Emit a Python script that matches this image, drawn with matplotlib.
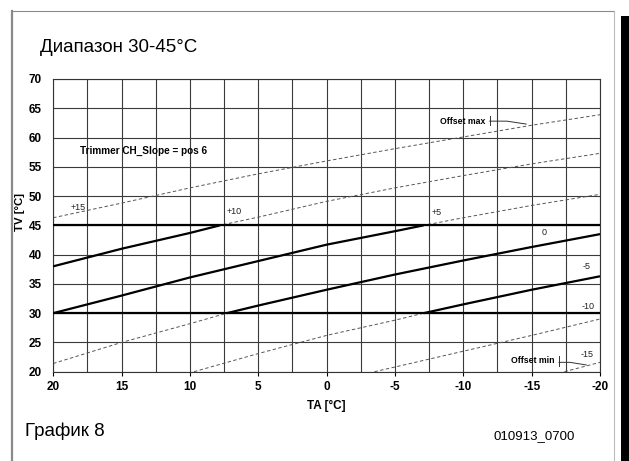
import matplotlib
matplotlib.use('Agg')
import numpy as np
import matplotlib.pyplot as plt
from matplotlib.patches import Rectangle
from matplotlib.lines import Line2D

plt.rcParams['font.family'] = ['Liberation Sans', 'DejaVu Sans']
plt.rcParams['axes.unicode_minus'] = False

# heating curves: outside temp TA -> flow temp TV
curve_labels = ['+15', '+10', '+5', '0', '-5', '-10', '-15']
curve_ta = [
    [20, 15, 10, 5, 0, -5, -10, -15, -20],
    [20, 15, 10, 7.8, 5, 0, -5, -10, -15, -20],
    [20, 15, 10, 5, 0, -5, -7.1, -10, -15, -20],
    [20, 15, 10, 7.3, 5, 0, -5, -10, -15, -20],
    [9.7, 5, 0, -5, -7.1, -10, -15, -20],
    [-3.5, -5, -10, -15, -20],
    [-17.4, -20],
]
curve_tv = [
    [46.3, 48.8, 51.4, 53.8, 56.0, 58.1, 60.1, 62.1, 63.9],
    [38.0, 41.0, 43.7, 45.0, 46.4, 49.1, 51.4, 53.5, 55.5, 57.3],
    [30.0, 33.0, 36.1, 38.9, 41.7, 44.0, 45.0, 46.3, 48.4, 50.3],
    [21.4, 25.0, 28.2, 30.0, 31.3, 34.0, 36.6, 39.0, 41.3, 43.5],
    [20.0, 23.1, 26.2, 28.8, 30.0, 31.5, 34.0, 36.3],
    [20.0, 20.8, 23.5, 26.2, 29.0],
    [20.0, 21.6],
]
tv_min, tv_max = 30, 45

x_ticks = [20, 15, 10, 5, 0, -5, -10, -15, -20]
y_ticks = [20, 25, 30, 35, 40, 45, 50, 55, 60, 65, 70]

# label positions (TA, TV)
label_pos = [(18.2, 48.0), (7.3, 47.3), (-7.7, 47.2), (-15.9, 43.7),
             (-19.0, 37.9), (-19.1, 31.2), (-19.05, 23.0)]

fig = plt.figure(figsize=(6.29, 4.61), dpi=100)
W, H = 629, 461
ax = fig.add_axes([53.2 / W, 1 - 371.7 / H, (600 - 53.2) / W, (371.7 - 79) / H])

ax.set_xlim(20, -20)
ax.set_ylim(20, 70)
ax.set_xticks(x_ticks)
ax.set_xticks(np.arange(-17.5, 20, 5), minor=True)
ax.set_yticks(y_ticks)
ax.set_xticklabels([str(t) for t in x_ticks])
ax.set_yticklabels([str(t) for t in y_ticks])
ax.grid(True, which='both', axis='x', color='#3a3a3a', lw=0.8)
ax.grid(True, which='major', axis='y', color='#3a3a3a', lw=0.8)
ax.tick_params(axis='x', which='major', length=3, width=0.8, pad=4, labelsize=8.5)
ax.tick_params(axis='x', which='minor', length=0)
ax.tick_params(axis='y', length=0, pad=8, labelsize=8.5)
for lab in ax.get_xticklabels() + ax.get_yticklabels():
    lab.set_fontweight('bold')
for s in ax.spines.values():
    s.set_linewidth(0.8)
    s.set_color('#333333')

ax.axhline(tv_min, color='black', lw=1.6, zorder=3)
ax.axhline(tv_max, color='black', lw=1.6, zorder=3)

for ta, tv in zip(curve_ta, curve_tv):
    ta = np.array(ta)
    tv = np.array(tv)
    ax.plot(ta, tv, color='#555555', lw=0.7, dashes=(3.5, 2.5), zorder=2)
    inside = (tv >= tv_min) & (tv <= tv_max)
    if inside.sum() > 1:
        ax.plot(ta[inside], tv[inside], color='black', lw=1.6,
                solid_capstyle='butt', zorder=4)

for lab, (x, y) in zip(curve_labels, label_pos):
    ha = 'left' if lab in ('+10', '+5') else 'center'
    ax.text(x, y, lab, fontsize=6.5, ha=ha, va='center', color='#222222')

ax.text(13.4, 57.75, 'Trimmer CH_Slope = pos 6', fontsize=7.2,
        fontweight='bold', ha='center', va='center')

# offset max / min markers
ax.text(-11.6, 62.8, 'Offset max', fontsize=6.3, fontweight='bold',
        ha='right', va='center')
ax.plot([-11.93, -11.93], [62.1, 63.6], color='#333333', lw=0.7)
ax.plot([-11.93, -13.2, -14.6], [62.8, 62.8, 62.3], color='#333333', lw=0.7)
ax.text(-16.7, 21.9, 'Offset min', fontsize=6.3, fontweight='bold',
        ha='right', va='center')
ax.plot([-17.0, -17.0], [21.0, 22.7], color='#333333', lw=0.7)
ax.plot([-17.0, -17.8, -19.0], [21.6, 21.6, 21.15], color='#333333', lw=0.7)

ax.set_xlabel('TA [°C]', fontsize=8.5, fontweight='bold', va='center')
ax.xaxis.set_label_coords(0.5, -0.116)
ax.set_ylabel('TV [°C]', fontsize=8.2, fontweight='bold', va='center')
ax.yaxis.set_label_coords(-0.06, 0.546)

fig.text(40 / W, 1 - 48 / H, 'Диапазон 30-45°C', fontsize=13.5, va='center', ha='left')
fig.text(25 / W, 1 - 431 / H, 'График 8', fontsize=13.5, va='center', ha='left')
fig.text(494 / W, 1 - 436 / H, '010913_0700', fontsize=9.5, va='center', ha='left')

# page frame and shadow bar
fig.add_artist(Line2D([12 / W, 12 / W], [0, 1 - 11 / H], color='#8a8a8a', lw=1.6))
fig.add_artist(Line2D([12 / W, 614 / W], [1 - 11 / H, 1 - 11 / H], color='#8a8a8a', lw=0.8))
fig.add_artist(Line2D([614 / W, 614 / W], [0, 1 - 11 / H], color='#bbbbbb', lw=0.8))
fig.add_artist(Rectangle((621 / W, 0), 8 / W, 1 - 16 / H, transform=fig.transFigure,
                         facecolor='black', edgecolor='none'))

fig.savefig('out.png', dpi=100)
plt.close(fig)
